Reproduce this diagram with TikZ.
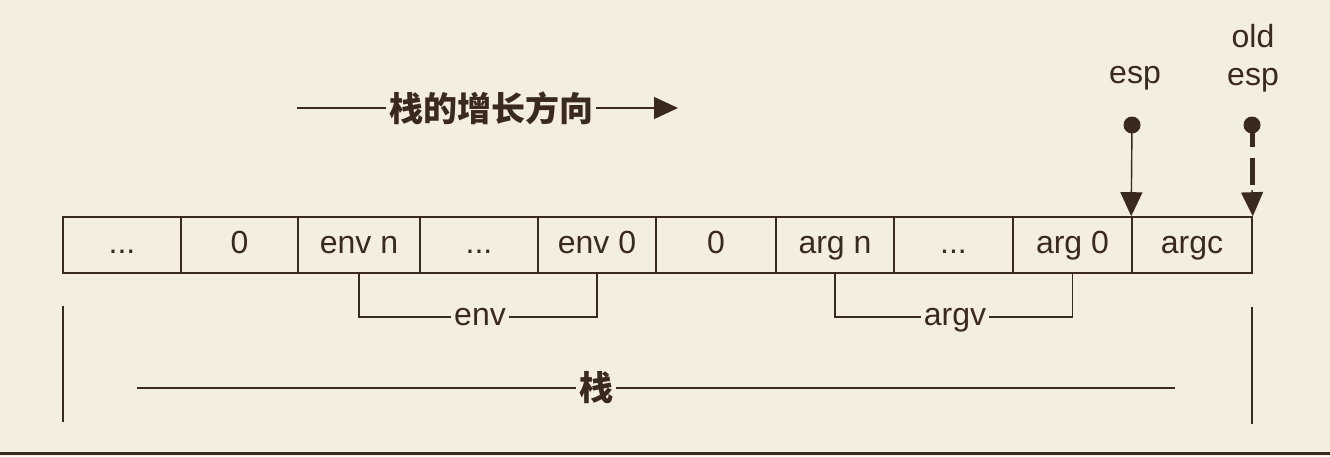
\documentclass[tikz,border=0pt]{standalone}
\usepackage{fontspec}
\setmainfont{Liberation Sans}
\newfontfamily\cjk{Noto Sans CJK SC}
\usetikzlibrary{arrows.meta}
\definecolor{bg}{HTML}{F4EEDF}
\definecolor{ink}{HTML}{3A2A1E}
\begin{document}
\begin{tikzpicture}[x=1pt,y=-1pt]
\tikzset{
 cell/.style={draw=ink, line width=1.6pt, minimum height=56pt, inner sep=0pt, text height=23pt, text depth=6pt, font=\fontsize{32}{38}\selectfont, text=ink},
 lbl/.style={font=\fontsize{32}{38}\selectfont, text=ink, inner xsep=3pt, inner ysep=0pt, text height=16pt, text depth=0pt},
 txt/.style={font=\fontsize{32}{38}\selectfont, text=ink, inner sep=0pt},
 cjklbl/.style={font=\cjk\bfseries\fontsize{34}{40}\selectfont, text=ink, inner xsep=3pt, inner ysep=0pt},
 ln/.style={draw=ink, line width=1.4pt},
 tri/.style={-{Triangle[length=24pt,width=22pt]}},
 dot/.style={circle, fill=ink, minimum size=17pt, inner sep=0pt},
}
\fill[bg] (0,0) rectangle (1330,456);
\useasboundingbox (0,0) rectangle (1330,456);

% cells
\node[cell, minimum width=118pt] (c1) at (122,245) {...};
\node[cell, minimum width=117pt] (c2) at (239.5,245) {0};
\node[cell, minimum width=122pt] (c3) at (359,245) {env n};
\node[cell, minimum width=118pt] (c4) at (479,245) {...};
\node[cell, minimum width=118pt] (c5) at (597,245) {env 0};
\node[cell, minimum width=120pt] (c6) at (716,245) {0};
\node[cell, minimum width=118pt] (c7) at (835,245) {arg n};
\node[cell, minimum width=119pt] (c8) at (953.5,245) {...};
\node[cell, minimum width=119pt] (c9) at (1072.5,245) {arg 0};
\node[cell, minimum width=120pt] (c10) at (1192,245) {argc};

% env / argv brackets
\node[lbl] (envl) at (480,317) {env};
\draw[ln] (c3.south) |- (envl.west);
\draw[ln] (envl.east) -| (c5.south);
\node[lbl] (argvl) at (955,317) {argv};
\draw[ln] (c7.south) |- (argvl.west);
\draw[ln] (argvl.east) -| (c9.south);

% growth direction
\node[cjklbl] (grow) at (491,108) {栈的增长方向};
\coordinate (g0) at (297,108);
\coordinate (g1) at (678,108);
\draw[ln] (g0) -- (grow.west);
\draw[ln, tri, draw=ink, fill=ink] (grow.east) -- (g1);

% esp
\node[txt, anchor=base] (esp) at (1135,83) {esp};
\node[dot] (d1) at (1132,125) {};
\draw[ln, tri, fill=ink] (d1.center) -- (c10.north west);

% old esp
\node[txt, anchor=base] (oldl) at (1253,47) {old};
\node[txt, anchor=base] (oesp) at (1253,85) {esp};
\node[dot] (d2) at (1252,125) {};
\coordinate (dashend) at (1252,186);
\coordinate (oh) at (1252,190);
\draw[ink, line width=5pt, dash pattern=on 22pt off 11pt on 27pt off 100pt] (d2.center) -- (dashend);
\draw[ln, tri, fill=ink] (oh) -- (c10.north east);

% stack extent
\coordinate (vl1) at (63,306);
\coordinate (vl2) at (63,422);
\coordinate (vr1) at (1252,307);
\coordinate (vr2) at (1252,424);
\draw[ln] (vl1) -- (vl2);
\draw[ln] (vr1) -- (vr2);
\node[cjklbl] (stk) at (596,388) {栈};
\coordinate (bl) at (137,388);
\coordinate (br) at (1175,388);
\draw[ln] (bl) -- (stk.west);
\draw[ln] (stk.east) -- (br);

% bottom rule
\coordinate (r0) at (0,453);
\coordinate (r1) at (1330,453);
\draw[ink, line width=3pt] (r0) -- (r1);
\end{tikzpicture}
\end{document}
